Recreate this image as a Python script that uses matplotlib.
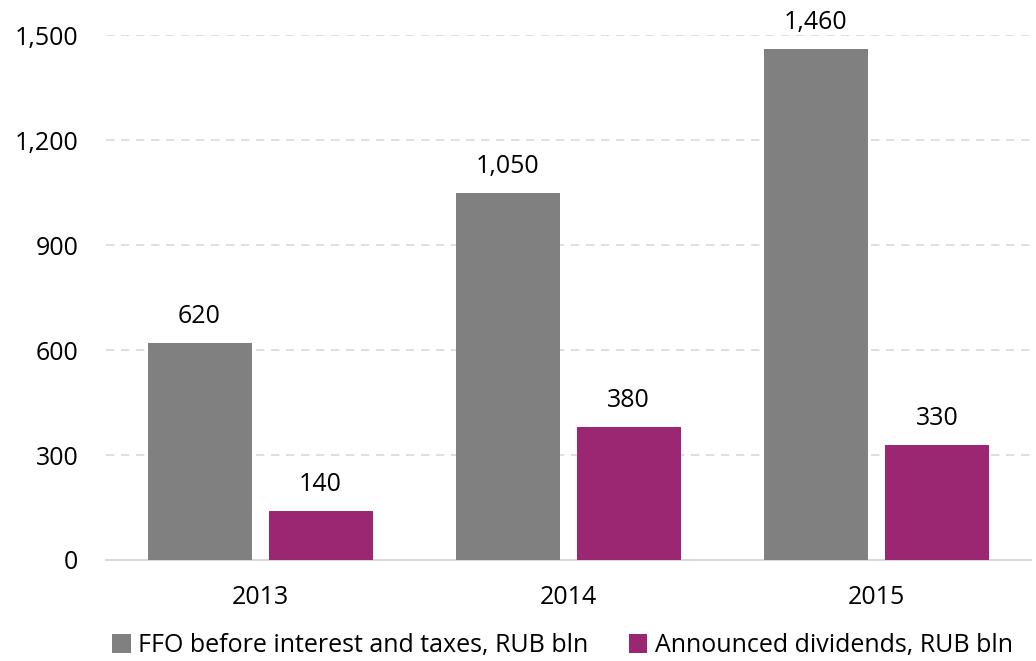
import matplotlib
matplotlib.use("Agg")
import matplotlib.pyplot as plt
import numpy as np
from matplotlib.ticker import FuncFormatter

years = ["2013", "2014", "2015"]
ffo = [620, 1050, 1460]
dividends = [140, 380, 330]
series_names = ["FFO before interest and taxes, RUB bln", "Announced dividends, RUB bln"]
yticks = [0, 300, 600, 900, 1200, 1500]

plt.rcParams['font.family'] = ['Open Sans', 'DejaVu Sans']

fig = plt.figure(figsize=(10.36, 6.61), dpi=100)
ax = fig.add_axes([0.1023, 0.1528, 0.8924, 0.7942])

x = np.arange(len(years))
w = 0.3377
off = 0.1964
grey = "#808080"
mag = "#9B2671"
fs = 18
b1 = ax.bar(x - off, ffo, width=w, color=grey, label=series_names[0], zorder=3)
b2 = ax.bar(x + off, dividends, width=w, color=mag, label=series_names[1], zorder=3)

for bars, vals in ((b1, ffo), (b2, dividends)):
    for rect, v in zip(bars, vals):
        ax.annotate(f"{v:,}", (rect.get_x() + rect.get_width() / 2, v),
                    xytext=(0, 10), textcoords="offset points",
                    ha="center", va="bottom", fontsize=fs, color="#000000",
                    annotation_clip=False)

ax.set_xlim(-0.5, 2.5)
ax.set_ylim(0, 1500)
ax.set_yticks(yticks)
ax.yaxis.set_major_formatter(FuncFormatter(lambda v, p: f"{int(v):,}"))
ax.set_xticks(x)
ax.set_xticklabels(years)
ax.tick_params(axis="both", length=0, labelsize=fs, colors="#000000")
ax.tick_params(axis="y", pad=20)
ax.tick_params(axis="x", pad=18)
for s in ["top", "right", "left"]:
    ax.spines[s].set_visible(False)
ax.spines["bottom"].set_color("#d9d9d9")
ax.spines["bottom"].set_linewidth(1.5)
ax.grid(axis="y", color="#d9d9d9", linestyle=(0, (5, 4)), linewidth=1.2, zorder=0)
ax.set_axisbelow(True)

fig.legend(handles=[b1, b2], loc="lower center", bbox_to_anchor=(0.543, -0.03), ncol=2,
           frameon=False, fontsize=fs, handlelength=0.75, handleheight=0.75,
           handletextpad=0.3, columnspacing=1.6)

fig.savefig("out.png", dpi=100)
